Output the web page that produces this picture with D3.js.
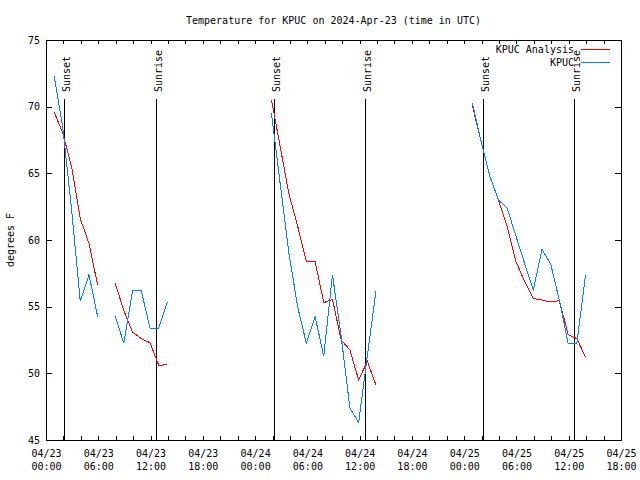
<!DOCTYPE html>
<html><head><meta charset="utf-8">
<script src="https://cdn.jsdelivr.net/npm/d3@7"></script>
<style>
body{margin:0;background:#fff}
svg text{font-family:"DejaVu Sans Mono",monospace;font-size:10px;fill:#000}
</style>
</head><body><svg id="c" width="640" height="480"></svg>
<script>
// ---- data ----
const obsTimes = [
 "2024-04-23 00:56","2024-04-23 01:56","2024-04-23 02:56","2024-04-23 03:56","2024-04-23 04:56","2024-04-23 05:56","2024-04-23 06:56",
 "2024-04-23 07:56","2024-04-23 08:56","2024-04-23 09:56","2024-04-23 10:56","2024-04-23 11:56","2024-04-23 12:56","2024-04-23 13:56",
 "2024-04-23 14:56",
 "2024-04-24 01:53","2024-04-24 02:53","2024-04-24 03:53","2024-04-24 04:53","2024-04-24 05:53","2024-04-24 06:53","2024-04-24 07:53",
 "2024-04-24 08:53","2024-04-24 09:53","2024-04-24 10:53","2024-04-24 11:53","2024-04-24 12:53","2024-04-24 13:53",
 "2024-04-24 14:53",
 "2024-04-25 00:56","2024-04-25 01:56","2024-04-25 02:56","2024-04-25 03:56","2024-04-25 04:56","2024-04-25 05:56","2024-04-25 06:56",
 "2024-04-25 07:56","2024-04-25 08:56","2024-04-25 09:56","2024-04-25 10:56","2024-04-25 11:56","2024-04-25 12:56","2024-04-25 13:56"
];
// KPUC observed (blue); null = missing
const obsTemps = [
 72.3, 68.4, 62.3, 55.4, 57.4, 54.25, null, 54.3, 52.25, 56.2, 56.2, 53.4, 53.4, 55.35,
 null,
 69.5, 64.2, 59.0, 55.0, 52.25, 54.25, 51.3, 57.4, 52.75, 47.4, 46.3, 51.3, 56.2,
 null,
 70.3, 67.4, 64.8, 63.0, 62.4, 60.3, 58.25, 56.25, 59.3, 58.2, 55.45, 52.25, 52.25, 57.4
];
// KPUC Analysis (red)
const anaTemps = [
 69.6, 68.0, 65.5, 61.6, 59.75, 56.6, null, 56.8, 54.7, 53.1, 52.6, 52.3, 50.6, 50.65,
 null,
 70.5, 67.0, 63.45, 61.05, 58.4, 58.4, 55.3, 55.55, 52.5, 51.75, 49.5, 50.9, 49.1,
 null,
 70.1, 67.4, 64.8, 63.0, 61.0, 58.4, 56.9, 55.6, 55.5, 55.35, 55.45, 52.9, 52.6, 51.2
];
const sunsetTimes  = ["2024-04-23 02:07","2024-04-24 02:08","2024-04-25 02:09"];
const sunriseTimes = ["2024-04-23 12:40","2024-04-24 12:38","2024-04-25 12:37"];
const yTicks = [45,50,55,60,65,70,75];
const xDomain = ["2024-04-23 00:00","2024-04-25 18:00"];
const seriesNames = ["KPUC Analysis","KPUC"];
const seriesColors = ["#ff0000","#0080ff"];
const titleText = "Temperature for KPUC on 2024-Apr-23 (time in UTC)";
const yLabel = "degrees F";

// ---- layout ----
const L=46, R=621, T=40, B=440;
const parse = d3.utcParse("%Y-%m-%d %H:%M");
const svg = d3.select("#c");

const x = d3.scaleUtc().domain(xDomain.map(parse)).range([L,R]);
const y = d3.scaleLinear().domain([45,75]).range([B,T]);

// title
svg.append("text").attr("x",(L+R)/2).attr("y",24).attr("text-anchor","middle").text(titleText);

// y label
svg.append("text").attr("transform","translate(14,240) rotate(-90)").attr("text-anchor","middle").text(yLabel);

function styleAxis(g){
  g.attr("font-family",null).attr("font-size",null);
  g.select(".domain").remove();
  g.selectAll("line").attr("stroke","#000").attr("shape-rendering","crispEdges");
}

// y axis left & right
svg.append("g").attr("transform",`translate(${L},0)`)
  .call(d3.axisLeft(y).tickValues(yTicks).tickSizeInner(-6).tickSizeOuter(0).tickPadding(6).tickFormat(d3.format("d")))
  .call(styleAxis);
svg.append("g").attr("transform",`translate(${R},0)`)
  .call(d3.axisRight(y).tickValues(yTicks).tickSizeInner(-6).tickSizeOuter(0).tickFormat(""))
  .call(styleAxis);

// x axis: minor ticks every 2h (bottom & top)
const minor = x.ticks(d3.utcHour.every(2));
svg.append("g").attr("transform",`translate(0,${B})`)
  .call(d3.axisBottom(x).tickValues(minor).tickSizeInner(-4).tickSizeOuter(0).tickFormat(""))
  .call(styleAxis);
svg.append("g").attr("transform",`translate(0,${T})`)
  .call(d3.axisTop(x).tickValues(minor).tickSizeInner(-4).tickSizeOuter(0).tickFormat(""))
  .call(styleAxis);

// x labels every 6h
const major = x.ticks(d3.utcHour.every(6));
const fmtD = d3.utcFormat("%m/%d"), fmtH = d3.utcFormat("%H:%M");
const xl = svg.append("g").attr("transform",`translate(0,${B})`)
  .call(d3.axisBottom(x).tickValues(major).tickSize(0).tickPadding(0).tickFormat(""))
  .call(styleAxis);
xl.selectAll(".tick").each(function(d){
  const t = d3.select(this).append("text").attr("text-anchor","middle").attr("fill","#000");
  t.append("tspan").attr("x",0).attr("y",17).text(fmtD(d));
  t.append("tspan").attr("x",0).attr("y",30).text(fmtH(d));
});

// frame
svg.append("rect").attr("x",L+0.5).attr("y",T+0.5).attr("width",R-L).attr("height",B-T)
  .attr("fill","none").attr("stroke","#000").attr("shape-rendering","crispEdges");

// sunrise / sunset lines
function sunMarks(times,label){
  times.map(parse).forEach(t=>{
    const xx = Math.round(x(t))+0.5;
    svg.append("line").attr("x1",xx).attr("x2",xx).attr("y1",99).attr("y2",B)
      .attr("stroke","#000").attr("stroke-width",1).attr("shape-rendering","crispEdges");
    svg.append("text").attr("transform",`translate(${xx+5},92) rotate(-90)`).text(label);
  });
}
sunMarks(sunsetTimes,"Sunset");
sunMarks(sunriseTimes,"Sunrise");

// series
const tParsed = obsTimes.map(parse);
const mk = vals => vals.map((v,i)=>({t:tParsed[i],v}));
const line = d3.line().defined(d=>d.v!=null).x(d=>x(d.t)).y(d=>y(d.v));
[anaTemps, obsTemps].forEach((vals,i)=>{
  svg.append("path").datum(mk(vals)).attr("d",line)
    .attr("fill","none").attr("stroke",seriesColors[i]).attr("stroke-width",1)
    .attr("shape-rendering","crispEdges");
});

// legend
seriesNames.forEach((n,i)=>{
  const yy = 49 + i*13;
  svg.append("text").attr("x",574).attr("y",yy+4).attr("text-anchor","end").text(n);
  svg.append("line").attr("x1",581).attr("x2",610).attr("y1",yy+0.5).attr("y2",yy+0.5)
    .attr("stroke",seriesColors[i]).attr("stroke-width",1).attr("shape-rendering","crispEdges");
});
</script></body></html>
